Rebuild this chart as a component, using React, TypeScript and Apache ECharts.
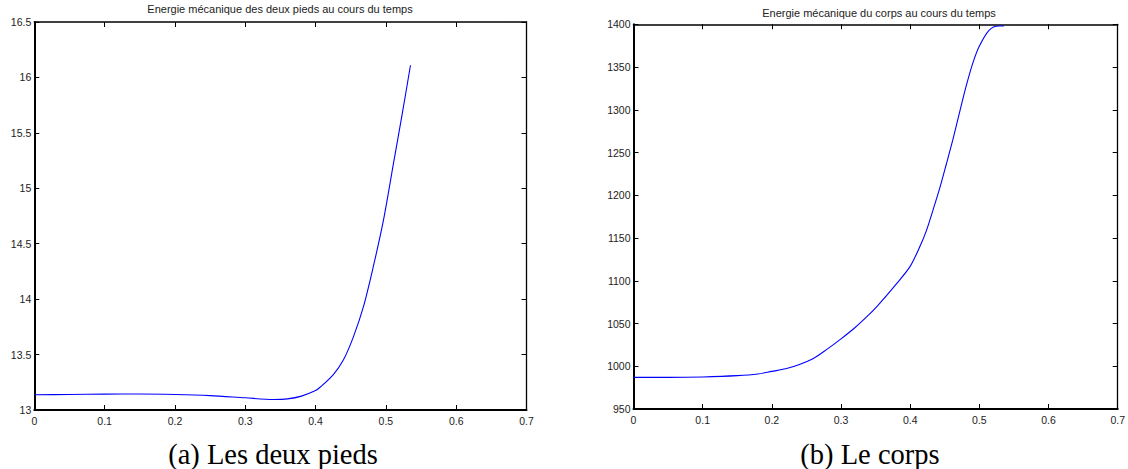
import React, { useEffect, useRef } from "react";
import * as echarts from "echarts";

// Left chart: mechanical energy of both feet
const feetTimes = [0, 0.05, 0.1, 0.15, 0.2, 0.25, 0.3, 0.34, 0.36, 0.38, 0.4, 0.4064, 0.4253, 0.4395, 0.4538, 0.468, 0.482, 0.4965, 0.5107, 0.5235, 0.535];
const feetEnergy = [13.138, 13.14, 13.143, 13.144, 13.14, 13.13, 13.11, 13.095, 13.1, 13.125, 13.175, 13.205, 13.32, 13.45, 13.66, 13.93, 14.29, 14.71, 15.22, 15.68, 16.11];

// Right chart: mechanical energy of the body
const bodyTimes = [0, 0.05, 0.1, 0.15, 0.18, 0.2, 0.22, 0.24, 0.26, 0.28, 0.3, 0.32, 0.34, 0.3521, 0.3807, 0.3997, 0.414, 0.4236, 0.4331, 0.4426, 0.4521, 0.4617, 0.4711, 0.4807, 0.4903, 0.4997, 0.514, 0.528, 0.5354];
const bodyEnergy = [987, 987, 987.5, 989, 991, 994, 997, 1002, 1009, 1020, 1032, 1045, 1060, 1070, 1097, 1116.5, 1140, 1159, 1183, 1208, 1236, 1265, 1296, 1327, 1354, 1374, 1393, 1398, 1398];

const leftTitle = "Energie mécanique des deux pieds au cours du temps";
const rightTitle = "Energie mécanique du corps au cours du temps";
const leftCaption = "(a) Les deux pieds";
const rightCaption = "(b) Le corps";

const SANS = "'Liberation Sans', Arial, Helvetica, sans-serif";
const SERIF = "'Liberation Serif', 'Times New Roman', serif";

function pairs(xs: number[], ys: number[]) {
  return xs.map((x, i) => [x, ys[i]]);
}

function xAxes(gridIndex: number) {
  const base = {
    type: "value",
    gridIndex,
    min: 0,
    max: 0.7,
    interval: 0.1,
    splitLine: { show: false },
    axisTick: { inside: true, length: 5, lineStyle: { color: "#000", width: 1 } },
  };
  return [
    {
      ...base,
      position: "bottom",
      axisLine: { onZero: false, lineStyle: { color: "#000", width: 2 } },
      axisLabel: {
        color: "#222",
        fontSize: 10.5,
        fontFamily: SANS,
        margin: 5,
        formatter: (v: number) => String(Math.round(v * 10) / 10),
        showMinLabel: true,
        showMaxLabel: true,
      },
    },
    {
      ...base,
      position: "top",
      axisLine: { onZero: false, lineStyle: { color: "#000", width: 1.5 } },
      axisLabel: { show: false },
    },
  ];
}

function yAxes(gridIndex: number, min: number, max: number, interval: number) {
  const base = {
    type: "value",
    gridIndex,
    min,
    max,
    interval,
    splitLine: { show: false },
    axisTick: { inside: true, length: 5, lineStyle: { color: "#000", width: 1 } },
  };
  return [
    {
      ...base,
      position: "left",
      axisLine: { show: true, onZero: false, lineStyle: { color: "#000", width: 2 } },
      axisLabel: {
        color: "#222",
        fontSize: 10.5,
        fontFamily: SANS,
        margin: 3,
        formatter: (v: number) => String(Math.round(v * 100) / 100),
        showMinLabel: true,
        showMaxLabel: true,
      },
    },
    {
      ...base,
      position: "right",
      axisLine: { show: true, onZero: false, lineStyle: { color: "#000", width: 1.3 } },
      axisLabel: { show: false },
    },
  ];
}

export default function App() {
  const ref = useRef<HTMLDivElement>(null);

  useEffect(() => {
    if (!ref.current) return;
    const chart = echarts.init(ref.current, undefined, { renderer: "svg" });
    const option: any = {
      animation: false,
      backgroundColor: "#fff",
      grid: [
        { left: 34.3, top: 22, width: 492.2, height: 388, containLabel: false },
        { left: 633.5, top: 24.3, width: 490, height: 384.7, containLabel: false },
      ],
      xAxis: [...xAxes(0), ...xAxes(1)],
      yAxis: [...yAxes(0, 13, 16.5, 0.5), ...yAxes(1, 950, 1400, 50)],
      series: [
        {
          type: "line",
          xAxisIndex: 0,
          yAxisIndex: 0,
          data: pairs(feetTimes, feetEnergy),
          showSymbol: false,
          smooth: 0.3,
          lineStyle: { color: "#0000ff", width: 1.1 },
        },
        {
          type: "line",
          xAxisIndex: 2,
          yAxisIndex: 2,
          data: pairs(bodyTimes, bodyEnergy),
          showSymbol: false,
          smooth: 0.3,
          lineStyle: { color: "#0000ff", width: 1.1 },
        },
      ],
      graphic: [
        {
          type: "text",
          x: 280,
          y: 9,
          style: { text: leftTitle, fontSize: 11, fontFamily: SANS, fill: "#222", align: "center", verticalAlign: "middle" },
        },
        {
          type: "text",
          x: 879,
          y: 13,
          style: { text: rightTitle, fontSize: 11, fontFamily: SANS, fill: "#222", align: "center", verticalAlign: "middle" },
        },
        {
          type: "text",
          x: 273,
          y: 454,
          style: { text: leftCaption, fontSize: 28.5, fontFamily: SERIF, fill: "#000", align: "center", verticalAlign: "middle" },
        },
        {
          type: "text",
          x: 870,
          y: 454,
          style: { text: rightCaption, fontSize: 28.5, fontFamily: SERIF, fill: "#000", align: "center", verticalAlign: "middle" },
        },
      ],
    };
    chart.setOption(option);
    return () => chart.dispose();
  }, []);

  return (
    <div
      ref={ref}
      style={{ position: "absolute", left: 0, top: 0, width: 1128, height: 469 }}
    />
  );
}
